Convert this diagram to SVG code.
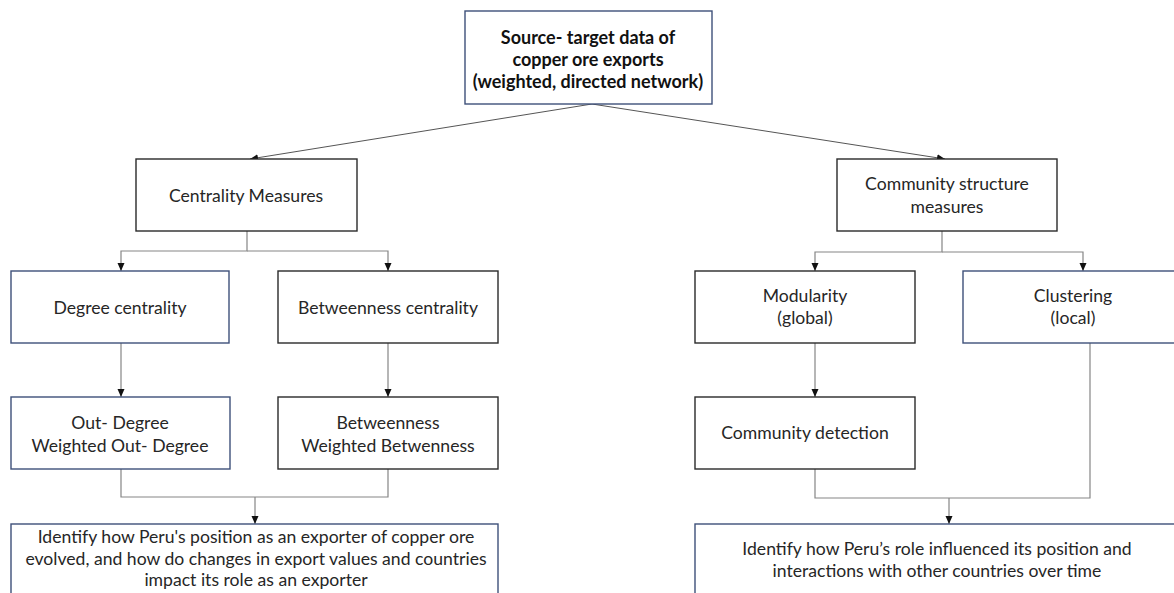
<svg xmlns="http://www.w3.org/2000/svg" width="1174" height="593" viewBox="0 0 1174 593">
<style>
.box{fill:#fff;stroke-width:1.4}
.blue{stroke:#3E5079}
.dark{stroke:#2a2a2a}
.t{font-family:Lato,"Liberation Sans",sans-serif;font-size:17.6px;fill:#262626;text-anchor:middle}
.b{font-weight:bold;fill:#111;font-size:18px}
.conn{stroke:#858585;stroke-width:1.2;fill:none}
.sl{stroke:#555;stroke-width:1;fill:none}
</style>
<defs>
<marker id="ah" markerUnits="userSpaceOnUse" markerWidth="10" markerHeight="8" refX="8" refY="3.5" orient="auto">
<path d="M0,0 L8,3.5 L0,7 z" fill="#111"/>
</marker>
</defs>
<rect width="1174" height="593" fill="#fff"/>
<g id="connectors">
<line class="sl" x1="592" y1="104" x2="250" y2="159" marker-end="url(#ah)"/>
<line class="sl" x1="592" y1="104" x2="945" y2="159" marker-end="url(#ah)"/>
<path class="conn" d="M247,231 V251 H121 V271" marker-end="url(#ah)"/>
<path class="conn" d="M247,251 H388 V271" marker-end="url(#ah)"/>
<path class="conn" d="M942,231 V252 H815 V271" marker-end="url(#ah)"/>
<path class="conn" d="M942,252 H1083 V271" marker-end="url(#ah)"/>
<path class="conn" d="M121,343 V397" marker-end="url(#ah)"/>
<path class="conn" d="M388,343 V397" marker-end="url(#ah)"/>
<path class="conn" d="M815,343 V397" marker-end="url(#ah)"/>
<path class="conn" d="M121,469 V497 H388 V469"/>
<path class="conn" d="M255,497 V524" marker-end="url(#ah)"/>
<path class="conn" d="M815,469 V498 H1090 V343"/>
<path class="conn" d="M949,498 V524" marker-end="url(#ah)"/>
</g>
<g id="source">
<rect class="box blue" x="465" y="11" width="247" height="93"/>
<text class="t b" x="588" y="44">Source- target data of</text>
<text class="t b" x="588" y="66">copper ore exports</text>
<text class="t b" x="588" y="88">(weighted, directed network)</text>
</g>
<g id="centrality">
<rect class="box dark" x="136" y="159" width="221" height="72"/>
<text class="t" x="246" y="202">Centrality Measures</text>
</g>
<g id="community">
<rect class="box dark" x="837" y="159" width="220" height="72"/>
<text class="t" x="947" y="190">Community structure</text>
<text class="t" x="947" y="213">measures</text>
</g>
<g id="degree">
<rect class="box blue" x="11" y="271" width="218" height="72"/>
<text class="t" x="120" y="314">Degree centrality</text>
</g>
<g id="betweenness">
<rect class="box dark" x="278" y="271" width="220" height="72"/>
<text class="t" x="388" y="314">Betweenness centrality</text>
</g>
<g id="modularity">
<rect class="box dark" x="695" y="271" width="220" height="72"/>
<text class="t" x="805" y="302">Modularity</text>
<text class="t" x="805" y="324">(global)</text>
</g>
<g id="clustering">
<rect class="box blue" x="963" y="271" width="222" height="72"/>
<text class="t" x="1073" y="302">Clustering</text>
<text class="t" x="1073" y="324">(local)</text>
</g>
<g id="outdegree">
<rect class="box blue" x="11" y="397" width="219" height="72"/>
<text class="t" x="120" y="429">Out- Degree</text>
<text class="t" x="120" y="452">Weighted Out- Degree</text>
</g>
<g id="betweenness-weighted">
<rect class="box dark" x="278" y="397" width="220" height="72"/>
<text class="t" x="388" y="429">Betweenness</text>
<text class="t" x="388" y="452">Weighted Betwenness</text>
</g>
<g id="community-detection">
<rect class="box dark" x="695" y="397" width="220" height="72"/>
<text class="t" x="805" y="439">Community detection</text>
</g>
<g id="goal-left">
<rect class="box blue" x="11" y="524" width="487" height="100"/>
<text class="t" x="256" y="543">Identify how Peru's position as an exporter of copper ore</text>
<text class="t" x="256" y="565">evolved, and how do changes in export values and countries</text>
<text class="t" x="256" y="586">impact its role as an exporter</text>
</g>
<g id="goal-right">
<rect class="box blue" x="695" y="524" width="500" height="100"/>
<text class="t" x="937" y="555">Identify how Peru’s role influenced its position and</text>
<text class="t" x="937" y="577">interactions with other countries over time</text>
</g>
</svg>
